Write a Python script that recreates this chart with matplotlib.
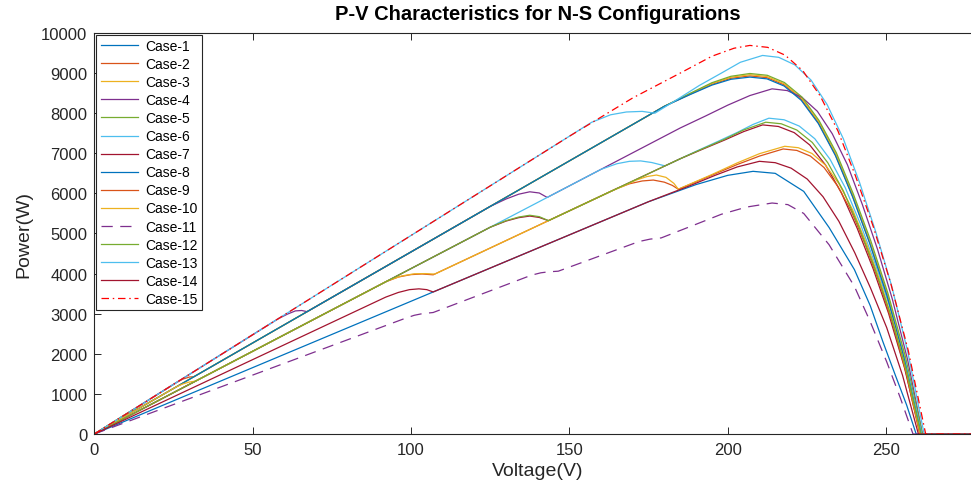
import matplotlib
matplotlib.use('Agg')
import matplotlib.pyplot as plt

plt.rcParams['font.family'] = ['Liberation Sans', 'DejaVu Sans']

# ---------------- data ----------------
V1 = [0, 175, 190, 200, 208, 215, 224, 232, 240, 245, 249, 253, 256.5, 259.5, 280]
P1 = [0, 5793, 6220, 6450, 6550, 6500, 6050, 5150, 4100, 3200, 2300, 1450, 720, 0, 0]

V2 = [0, 26, 28, 30, 31.5, 180, 188, 195, 201, 207, 212.4, 217.8, 223.2, 228.6, 234.0, 239.4, 244.8, 250.2, 255.6, 261.0, 280]
P2 = [0, 1287, 1370, 1420, 1430, 8172, 8470, 8720, 8870, 8930, 8885, 8707, 8350, 7769, 6965, 5938, 4778, 3483, 1920, 0, 0]

V3 = [0, 180, 188, 195, 201, 207, 212.4, 217.8, 223.3, 228.7, 234.1, 239.5, 244.9, 250.4, 255.8, 261.2, 280]
P3 = [0, 8172, 8480, 8740, 8895, 8960, 8915, 8736, 8378, 7795, 6989, 5958, 4794, 3494, 1926, 0, 0]

V4 = [0, 58, 61, 63.5, 65.5, 67.2, 125, 130, 134, 137.5, 140.5, 143, 185, 193, 200, 207, 214, 218.8, 223.5, 228.3, 233.0, 237.8, 242.5, 247.3, 252.0, 256.8, 261.5, 280]
P4 = [0, 2871, 2990, 3070, 3080, 3051, 5675, 5860, 5980, 6040, 6010, 5899, 7631, 7930, 8200, 8440, 8607, 8564, 8392, 8048, 7488, 6713, 5724, 4605, 3357, 1851, 0, 0]

V5 = [0, 11, 12.5, 14, 180, 188, 195, 201, 207, 212.5, 217.9, 223.4, 228.8, 234.3, 239.7, 245.2, 250.6, 256.1, 261.5, 280]
P5 = [0, 545, 600, 636, 8172, 8490, 8760, 8920, 8990, 8945, 8765, 8406, 7821, 7012, 5978, 4810, 3506, 1933, 0, 0]

V6 = [0, 160, 165, 169, 172.5, 176, 180.2, 190, 197, 203, 208, 213, 217.8, 222.6, 227.5, 232.3, 237.1, 241.9, 246.7, 251.6, 256.4, 261.2, 280]
P6 = [0, 6600, 6740, 6800, 6810, 6770, 6686, 7049, 7300, 7520, 7720, 7875, 7836, 7678, 7363, 6851, 6143, 5237, 4213, 3071, 1693, 0, 0]

V7 = [0, 125, 130, 134, 137.5, 140.5, 143.4, 185, 192, 199, 205, 211, 216.0, 221.0, 225.9, 230.9, 235.9, 240.9, 245.9, 250.8, 255.8, 260.8, 280]
P7 = [0, 5156, 5310, 5395, 5435, 5400, 5320, 6864, 7100, 7330, 7540, 7708, 7669, 7515, 7207, 6706, 6012, 5126, 4124, 3006, 1657, 0, 0]

V8 = [0, 180, 188, 195, 201, 207, 212.4, 217.8, 223.2, 228.6, 234.0, 239.4, 244.8, 250.2, 255.6, 261.0, 280]
P8 = [0, 8172, 8460, 8700, 8845, 8900, 8856, 8678, 8322, 7743, 6942, 5919, 4762, 3471, 1914, 0, 0]

V9 = [0, 92, 96, 100, 103.5, 107, 165, 169, 173, 176.5, 180, 182.5, 184.4, 195, 203, 210, 217.5, 221.8, 226.1, 230.4, 234.7, 239.1, 243.4, 247.7, 252.0, 256.3, 260.6, 280]
P9 = [0, 3795, 3915, 3975, 3990, 3970, 6122, 6240, 6310, 6333, 6280, 6200, 6104, 6455, 6720, 6930, 7108, 7072, 6930, 6646, 6184, 5544, 4727, 3803, 2772, 1528, 0, 0]

V10 = [0, 26, 28, 30, 32, 93, 97, 101, 104.5, 107.5, 163, 167, 171, 174.5, 177.5, 180.5, 183, 184.4, 195, 203, 210, 218, 222.3, 226.6, 230.8, 235.1, 239.4, 243.7, 248.0, 252.2, 256.5, 260.8, 280]
P10 = [0, 1180, 1250, 1295, 1320, 3836, 3940, 3995, 4000, 3988, 6047, 6180, 6330, 6420, 6458, 6400, 6250, 6104, 6470, 6760, 6990, 7175, 7139, 6996, 6709, 6242, 5597, 4771, 3839, 2798, 1543, 0, 0]

V11 = [0, 98, 101, 103.5, 107, 138, 141, 143.5, 146.5, 172, 175.5, 179, 190, 198, 206, 214, 219, 224, 232, 240, 245, 250.2, 254.5, 258.5, 280]
P11 = [0, 2880, 2960, 3000, 3030, 3960, 4020, 4045, 4060, 4800, 4860, 4890, 5230, 5480, 5660, 5760, 5720, 5500, 4720, 3680, 2800, 1800, 900, 0, 0]

V12 = [0, 125, 130, 134, 137.5, 140.5, 143.4, 185, 192, 199, 205, 212, 216.9, 221.8, 226.7, 231.6, 236.5, 241.4, 246.3, 251.2, 256.1, 261, 280]
P12 = [0, 5156, 5320, 5410, 5455, 5420, 5320, 6864, 7110, 7350, 7580, 7775, 7736, 7581, 7270, 6764, 6065, 5170, 4160, 3032, 1672, 0, 0]

V13 = [0, 157, 163, 168, 173, 177, 184, 191, 198, 204, 211, 216.1, 221.2, 226.3, 231.4, 236.5, 241.6, 246.7, 251.8, 256.9, 262, 280]
P13 = [0, 7772, 7960, 8030, 8045, 8000, 8340, 8690, 9000, 9270, 9440, 9393, 9204, 8826, 8213, 7363, 6278, 5050, 3682, 2030, 0, 0]

V14 = [0, 92, 96, 99.5, 102.5, 105, 107, 175, 188, 196, 203, 210, 215.0, 220.0, 225.1, 230.1, 235.1, 240.1, 245.1, 250.2, 255.2, 260.2, 280]
P14 = [0, 3413, 3530, 3600, 3620, 3600, 3542, 5793, 6190, 6450, 6660, 6800, 6766, 6630, 6358, 5916, 5304, 4522, 3638, 2652, 1462, 0, 0]

V15 = [0, 150, 170, 185, 195, 202, 207, 212.6, 218.1, 223.7, 229.2, 234.8, 240.3, 245.9, 251.4, 257.0, 262.5, 280]
P15 = [0, 7425, 8380, 9000, 9420, 9620, 9690, 9642, 9448, 9060, 8430, 7558, 6444, 5184, 3779, 2083, 0, 0]

labels = ['Case-%d' % i for i in range(1, 16)]
x_ticks = [0, 50, 100, 150, 200, 250]
y_ticks = [0, 1000, 2000, 3000, 4000, 5000, 6000, 7000, 8000, 9000, 10000]

# ---------------- style ----------------
mblue, morange, myellow = '#0072BD', '#D95319', '#EDB120'
mpurple, mgreen, mcyan, mdred = '#7E2F8E', '#77AC30', '#4DBEEE', '#A2142F'
colors = [mblue, morange, myellow, mpurple, mgreen, mcyan, mdred,
          mblue, morange, myellow, mpurple, mgreen, mcyan, mdred, '#FF0000']

series = [(V1, P1), (V2, P2), (V3, P3), (V4, P4), (V5, P5), (V6, P6), (V7, P7),
          (V8, P8), (V9, P9), (V10, P10), (V11, P11), (V12, P12), (V13, P13),
          (V14, P14), (V15, P15)]

fig = plt.figure(figsize=(9.71, 4.89), dpi=100)
ax = fig.add_axes([0.0971, 0.1104, 0.9133, 0.8201])

for i, ((v, p), c, lab) in enumerate(zip(series, colors, labels)):
    line, = ax.plot(v, p, color=c, lw=0.9, label=lab)
    if i == 10:
        line.set_dashes((9, 6))
    if i == 14:
        line.set_dashes((6, 3, 1.2, 3))

edge = '#262626'
ax.set_xlim(0, 280)
ax.set_ylim(0, 10000)
ax.set_xticks(x_ticks)
ax.set_yticks(y_ticks)
ax.tick_params(direction='in', top=True, right=True, length=5, width=0.7,
               colors=edge, labelsize=12)
ax.tick_params(axis='x', pad=6)
ax.tick_params(axis='y', pad=5)
for s in ax.spines.values():
    s.set_color(edge)
    s.set_linewidth(0.8)

ax.set_title('P-V Characteristics for N-S Configurations', fontsize=14.5,
             fontweight='bold', pad=10)
ax.set_xlabel('Voltage(V)', fontsize=14, color=edge, labelpad=3)
ax.set_ylabel('Power(W)', fontsize=14, color=edge, labelpad=6)

leg = ax.legend(loc='upper left', fontsize=10, labelspacing=0.29, handlelength=2.7,
                handletextpad=0.5, borderpad=0.3, borderaxespad=0.15,
                fancybox=False, edgecolor=edge, framealpha=1)
leg.get_frame().set_linewidth(0.8)

fig.savefig('out.png', dpi=100)
